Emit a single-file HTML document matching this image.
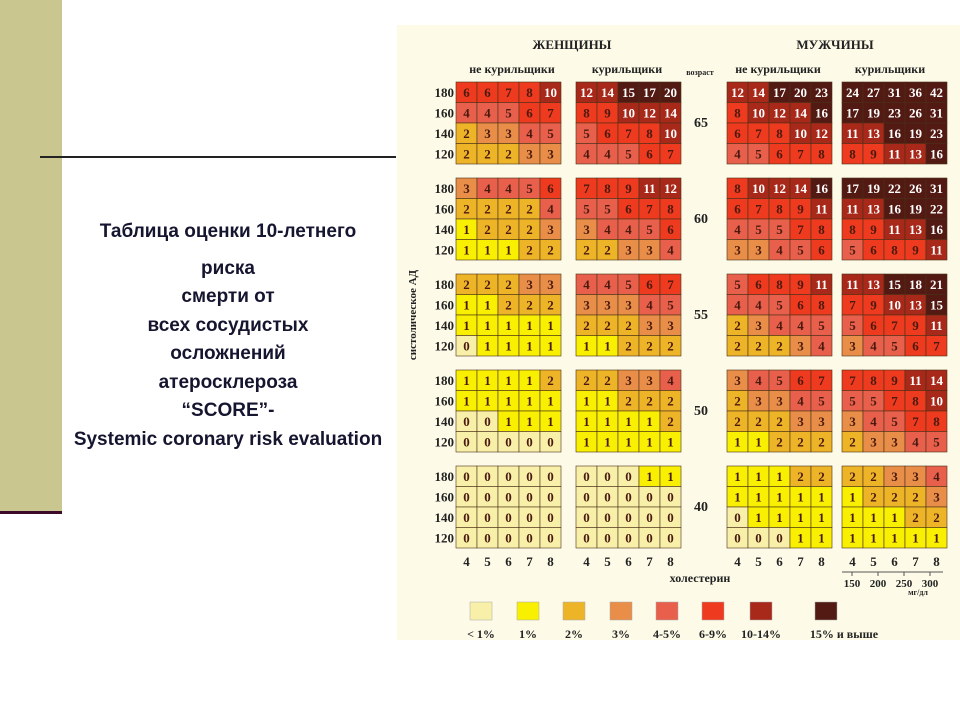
<!DOCTYPE html>
<html><head><meta charset="utf-8">
<style>
body{margin:0;width:960px;height:720px;background:#fff;position:relative;overflow:hidden;font-family:"Liberation Sans","DejaVu Sans",sans-serif}
#title{position:absolute;left:20px;width:416px;top:218px;text-align:center;font-weight:bold;font-size:19px;color:#151530;line-height:28.5px}
svg text{font-family:"Liberation Serif","DejaVu Serif",serif;font-weight:bold}
</style></head><body>
<div style="position:absolute;left:0;top:0;width:62px;height:512px;background:#c9c78f"></div>
<div style="position:absolute;left:0;top:511px;width:62px;height:3px;background:#3a0a28"></div>
<div style="position:absolute;left:40px;top:156px;width:356px;height:2px;background:#222"></div>
<div id="title">Таблица оценки 10-летнего<br><span style="display:block;margin-top:8px">риска</span>смерти от<br>всех сосудистых<br>осложнений<br>атеросклероза<br>“SCORE”-<br>Systemic coronary risk evaluation</div>
<svg id="chart" width="960" height="720" style="position:absolute;left:0;top:0">
<rect x="397" y="25" width="563" height="615" fill="#fdfbe8"/>
</svg>
<script>
const ages=[65,60,55,50,40];
const sbp=[180,160,140,120];
const chol=[4,5,6,7,8];
const mgdl=[150,200,250,300];
const womenNS=[
[[6,6,7,8,10],[4,4,5,6,7],[2,3,3,4,5],[2,2,2,3,3]],
[[3,4,4,5,6],[2,2,2,2,4],[1,2,2,2,3],[1,1,1,2,2]],
[[2,2,2,3,3],[1,1,2,2,2],[1,1,1,1,1],[0,1,1,1,1]],
[[1,1,1,1,2],[1,1,1,1,1],[0,0,1,1,1],[0,0,0,0,0]],
[[0,0,0,0,0],[0,0,0,0,0],[0,0,0,0,0],[0,0,0,0,0]]];
const womenS=[
[[12,14,15,17,20],[8,9,10,12,14],[5,6,7,8,10],[4,4,5,6,7]],
[[7,8,9,11,12],[5,5,6,7,8],[3,4,4,5,6],[2,2,3,3,4]],
[[4,4,5,6,7],[3,3,3,4,5],[2,2,2,3,3],[1,1,2,2,2]],
[[2,2,3,3,4],[1,1,2,2,2],[1,1,1,1,2],[1,1,1,1,1]],
[[0,0,0,1,1],[0,0,0,0,0],[0,0,0,0,0],[0,0,0,0,0]]];
const menNS=[
[[12,14,17,20,23],[8,10,12,14,16],[6,7,8,10,12],[4,5,6,7,8]],
[[8,10,12,14,16],[6,7,8,9,11],[4,5,5,7,8],[3,3,4,5,6]],
[[5,6,8,9,11],[4,4,5,6,8],[2,3,4,4,5],[2,2,2,3,4]],
[[3,4,5,6,7],[2,3,3,4,5],[2,2,2,3,3],[1,1,2,2,2]],
[[1,1,1,2,2],[1,1,1,1,1],[0,1,1,1,1],[0,0,0,1,1]]];
const menS=[
[[24,27,31,36,42],[17,19,23,26,31],[11,13,16,19,23],[8,9,11,13,16]],
[[17,19,22,26,31],[11,13,16,19,22],[8,9,11,13,16],[5,6,8,9,11]],
[[11,13,15,18,21],[7,9,10,13,15],[5,6,7,9,11],[3,4,5,6,7]],
[[7,8,9,11,14],[5,5,7,8,10],[3,4,5,7,8],[2,3,3,4,5]],
[[2,2,3,3,4],[1,2,2,2,3],[1,1,1,2,2],[1,1,1,1,1]]];
const legendLabels=['< 1%','1%','2%','3%','4-5%','6-9%','10-14%','15% и выше'];
const legendColors=['#f8f0a8','#f8f000','#eeb428','#e88e48','#e8604c','#ee3a1e','#a8281a','#521a12'];

const svg=document.getElementById('chart');
const NS='http://www.w3.org/2000/svg';
function el(tag,attrs,txt){const e=document.createElementNS(NS,tag);for(const k in attrs)e.setAttribute(k,attrs[k]);if(txt!==undefined)e.textContent=txt;svg.appendChild(e);return e;}
function colorIdx(v){return v<1?0:v<2?1:v<3?2:v<4?3:v<6?4:v<10?5:v<15?6:7;}
const panelX=[456,576,727,842];
const cellW=21,cellH=20.5;
function xPos(p,c){return panelX[p]+c*cellW;}
function yPos(a,r){return 82+a*96+r*cellH;}
const panels=[womenNS,womenS,menNS,menS];
panels.forEach((pd,p)=>{
  pd.forEach((blk,a)=>{
    blk.forEach((row,r)=>{
      row.forEach((v,c)=>{
        const ci=colorIdx(v);
        const rc=el('rect',{x:xPos(p,c),y:yPos(a,r),width:cellW,height:cellH,fill:legendColors[ci],stroke:'#4a3018','stroke-width':0.6});
        
        
        const t=el('text',{x:xPos(p,c)+cellW/2,y:yPos(a,r)+15,'text-anchor':'middle','font-size':13,fill:ci>=6?'#fff':'#4a1a10'},v);
        
        
      });
    });
  });
});
ages.forEach((age,a)=>{
  sbp.forEach((s,r)=>{
    const t=el('text',{x:454,y:yPos(a,r)+15,'text-anchor':'end','font-size':13,fill:'#222'},s);
    
    
  });
  const t=el('text',{x:701,y:yPos(a,0)+45,'text-anchor':'middle','font-size':14,fill:'#222'},age);
  
  
});
panelX.forEach((px,p)=>{
  chol.forEach((c,i)=>{
    const t=el('text',{x:xPos(p,i)+cellW/2,y:566,'text-anchor':'middle','font-size':13,fill:'#222'},c);
    
    
  });
});
el('line',{x1:842,y1:572,x2:943,y2:572,stroke:'#555','stroke-width':1});
mgdl.forEach((m,i)=>{
  const x=852+i*26;
  el('line',{x1:x,y1:572,x2:x,y2:576,stroke:'#555'});
  const t=el('text',{x:x,y:587,'text-anchor':'middle','font-size':11,fill:'#222'},m);
  
  
});
el('text',{x:918,y:595,'text-anchor':'middle','font-size':8,fill:'#222'},'мг/дл');
[['ЖЕНЩИНЫ',572,49,13],['МУЖЧИНЫ',835,49,13],['не курильщики',512,73,12],['курильщики',627,73,12],['не курильщики',778,73,12],['курильщики',890,73,12],['возраст',700,75,8],['холестерин',700,582,12]].forEach(h=>{
  const t=el('text',{x:h[1],y:h[2],'text-anchor':'middle','font-size':h[3],fill:'#222'},h[0]);
  
  
});
const yl=el('text',{x:0,y:0,'text-anchor':'middle','font-size':11,fill:'#222',transform:'translate(416,315) rotate(-90)'},'систолическое АД');


const legX=[470,517,563,610,656,702,750,815];
legendLabels.forEach((l,i)=>{
  const r=el('rect',{x:legX[i],y:602,width:22,height:18,fill:legendColors[i],stroke:'#aaa','stroke-width':0.5});
  
  
  const t=el('text',{x:legX[i]+11+(i==7?18:0),y:638,'text-anchor':'middle','font-size':12,fill:'#222'},l);
  
  
});
</script>
</body></html>
